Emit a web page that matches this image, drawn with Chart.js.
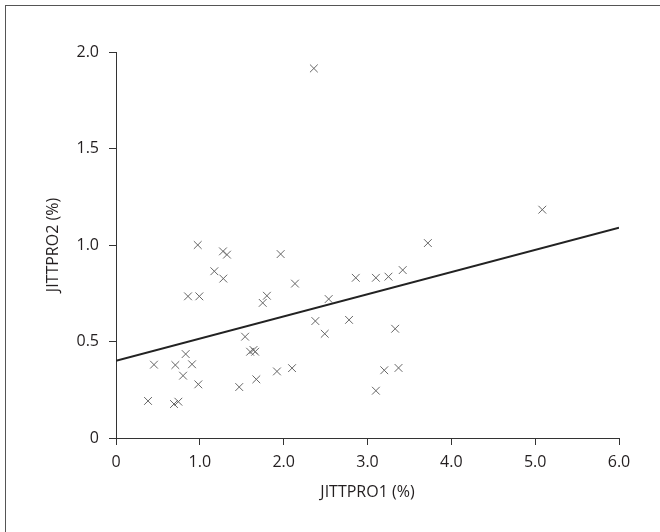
<!DOCTYPE html>
<html>
<head>
<meta charset="utf-8">
<script src="https://cdn.jsdelivr.net/npm/chart.js@4"></script>
<style>
  html, body { margin: 0; padding: 0; background: #fff; }
  #wrap { position: relative; width: 660px; height: 532px; }
  #frame { position: absolute; left: 5px; top: 5px; right: 0; bottom: 0;
           border-left: 1px solid #555; border-top: 1px solid #555; pointer-events: none; }
</style>
</head>
<body>
<div id="wrap">
  <canvas id="chart" width="660" height="532"></canvas>
  <div id="frame"></div>
</div>
<script>
// valores
const jittpro1 = [0.975, 1.276, 1.324, 1.964, 1.173, 1.28, 2.135, 2.86, 0.859, 0.994,
  1.80, 1.75, 2.537, 2.378, 2.78, 3.10, 3.25, 3.42, 3.72, 2.49,
  3.33, 1.92, 2.10, 3.20, 3.37, 3.10, 1.54, 1.60, 1.64, 1.66,
  0.831, 0.453, 0.708, 0.907, 0.80, 0.982, 0.382, 0.692, 0.744, 1.47,
  1.674, 2.36, 5.085];
const jittpro2 = [1.00, 0.967, 0.950, 0.953, 0.864, 0.826, 0.80, 0.83, 0.734, 0.734,
  0.737, 0.70, 0.72, 0.606, 0.612, 0.83, 0.836, 0.870, 1.01, 0.54,
  0.566, 0.345, 0.362, 0.351, 0.363, 0.245, 0.525, 0.447, 0.456, 0.447,
  0.435, 0.380, 0.378, 0.382, 0.323, 0.278, 0.192, 0.176, 0.188, 0.264,
  0.304, 1.915, 1.183];

// recta de regresion
const fitX = [0, 6.0];
const fitY = [0.40, 1.09];

const xTicks = [0, 1, 2, 3, 4, 5, 6];
const yTicks = [0, 0.5, 1, 1.5, 2];

const font = { family: '"Open Sans", "DejaVu Sans", sans-serif', size: 16 };
const ink = '#231f20';

const fmt = v => v === 0 ? '0' : Number(v).toFixed(1);

new Chart('chart', {
  type: 'scatter',
  data: {
    datasets: [{
      label: 'JITTPRO',
      data: jittpro1.map((x, i) => ({ x: x, y: jittpro2[i] })),
      pointStyle: 'crossRot',
      pointRadius: 5.5,
      pointBorderWidth: 1,
      borderColor: '#666',
      backgroundColor: '#666'
    }, {
      type: 'line',
      label: 'fit',
      data: fitX.map((x, i) => ({ x: x, y: fitY[i] })),
      borderColor: '#222',
      borderWidth: 2,
      pointRadius: 0,
      fill: false
    }]
  },
  options: {
    responsive: false,
    animation: false,
    layout: { padding: { left: 0, top: 52, right: 41, bottom: 0 } },
    plugins: { legend: { display: false }, tooltip: { enabled: false } },
    scales: {
      x: {
        type: 'linear',
        min: 0, max: 6,
        afterBuildTicks: s => { s.ticks = xTicks.map(v => ({ value: v })); },
        afterFit: s => { s.height = 94; },
        grid: { drawOnChartArea: false, drawTicks: true, tickLength: 7, color: '#333' },
        border: { display: true, color: '#333', width: 1 },
        ticks: { color: ink, font: font, padding: 8, callback: fmt, maxRotation: 0 },
        title: { display: true, text: 'JITTPRO1 (%)', color: ink, font: font, padding: { top: 4, bottom: 30 } }
      },
      y: {
        type: 'linear',
        min: 0, max: 2,
        afterBuildTicks: s => { s.ticks = yTicks.map(v => ({ value: v })); },
        afterFit: s => { s.width = 116; },
        grid: { drawOnChartArea: false, drawTicks: true, tickLength: 7, color: '#333' },
        border: { display: true, color: '#333', width: 1 },
        ticks: { color: ink, font: font, padding: 10, callback: fmt },
        title: { display: true, text: 'JITTPRO2 (%)', color: ink, font: font, padding: { top: 44, bottom: 4 } }
      }
    }
  }
});
</script>
</body>
</html>
